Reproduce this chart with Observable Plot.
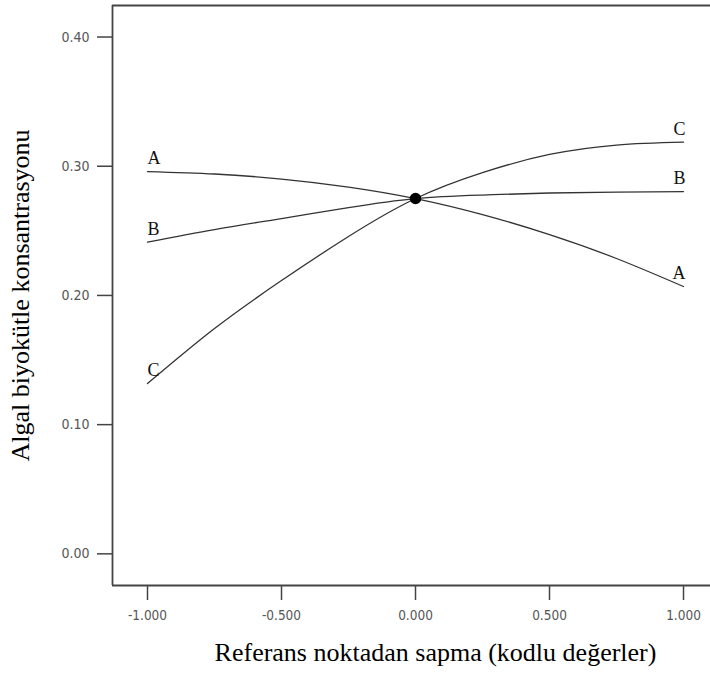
<!DOCTYPE html>
<html>
<head>
<meta charset="utf-8">
<script src="https://cdn.jsdelivr.net/npm/d3@7"></script>
<script src="https://cdn.jsdelivr.net/npm/@observablehq/plot@0.6"></script>
<style>
  html, body { margin: 0; padding: 0; background: #fff; }
  #chart svg { display: block; }
</style>
</head>
<body>
<div id="chart"></div>
<script>
// Coded deviation from the reference point
const deviation = [-1, -0.75, -0.5, -0.25, 0, 0.25, 0.5, 0.75, 1];
// Trace curves for each factor (algal biomass concentration)
const seriesA = [0.2959, 0.2940, 0.2901, 0.2839, 0.2750, 0.2626, 0.2471, 0.2286, 0.2069];
const seriesB = [0.2413, 0.2510, 0.2595, 0.2680, 0.2750, 0.2777, 0.2793, 0.2800, 0.2804];
const seriesC = [0.1318, 0.1744, 0.2115, 0.2456, 0.2750, 0.2951, 0.3091, 0.3164, 0.3186];
const seriesNames = ["A", "B", "C"];
const yTicks = [0.00, 0.10, 0.20, 0.30, 0.40];
const xTicks = [-1, -0.5, 0, 0.5, 1];
const referencePoint = {x: 0, y: 0.2750};
const xTitle = "Referans noktadan sapma (kodlu değerler)";
const yTitle = "Algal biyokütle konsantrasyonu";

const allSeries = [seriesA, seriesB, seriesC];
const rows = [];
allSeries.forEach((vals, i) => vals.forEach((v, j) => rows.push({series: seriesNames[i], x: deviation[j], y: v})));
const leftLabels = allSeries.map((vals, i) => ({name: seriesNames[i], x: deviation[0], y: vals[0]}));
const rightLabels = allSeries.map((vals, i) => ({name: seriesNames[i], x: deviation[deviation.length - 1], y: vals[vals.length - 1]}));

const xDom = [-1.1306, 1.1007];
const yDom = [-0.0245, 0.4244];
const hyphen = f => d => f(d).replace("\u2212", "-");

const chart = Plot.plot({
  width: 710,
  height: 675,
  marginLeft: 112,
  marginRight: 0,
  marginTop: 5,
  marginBottom: 90,
  x: {domain: xDom},
  y: {domain: yDom},
  style: {fontFamily: "'DejaVu Sans Condensed', 'DejaVu Sans', sans-serif", background: "#fff"},
  marks: [
    Plot.axisY(yTicks, {tickFormat: hyphen(d3.format(".2f")), tickSize: 15, tickPadding: 8, label: null, fontSize: 14, fill: "#555", stroke: "#444", strokeWidth: 1.5}),
    Plot.axisX(xTicks, {tickFormat: hyphen(d3.format(".3f")), tickSize: 15, tickPadding: 10, label: null, fontSize: 13.5, fill: "#555", stroke: "#444", strokeWidth: 1.5}),
    Plot.ruleX([xDom[0]], {stroke: "#444", strokeWidth: 1.8}),
    Plot.ruleY([yDom[0], yDom[1]], {stroke: "#444", strokeWidth: 1.8}),
    Plot.line(rows, {x: "x", y: "y", z: "series", curve: "natural", stroke: "#333", strokeWidth: 1.3}),
    Plot.dot([referencePoint], {x: "x", y: "y", r: 5, fill: "#000", stroke: "#000"}),
    Plot.text(leftLabels, {x: "x", y: "y", text: "name", textAnchor: "start", dy: -13, fontSize: 18, fontFamily: "'Liberation Serif', serif", fill: "#111"}),
    Plot.text(rightLabels, {x: "x", y: "y", text: "name", textAnchor: "end", dx: 2, dy: -13, fontSize: 18, fontFamily: "'Liberation Serif', serif", fill: "#111"}),
    Plot.text([yTitle], {frameAnchor: "left", textAnchor: "middle", rotate: -90, dx: -92, dy: 0, fontSize: 26, fontFamily: "'Liberation Serif', serif", fill: "#000"}),
    Plot.text([xTitle], {frameAnchor: "bottom", textAnchor: "middle", dx: 24, dy: 75, fontSize: 26, fontFamily: "'Liberation Serif', serif", fill: "#000"})
  ]
});
document.getElementById("chart").appendChild(chart);
</script>
</body>
</html>
